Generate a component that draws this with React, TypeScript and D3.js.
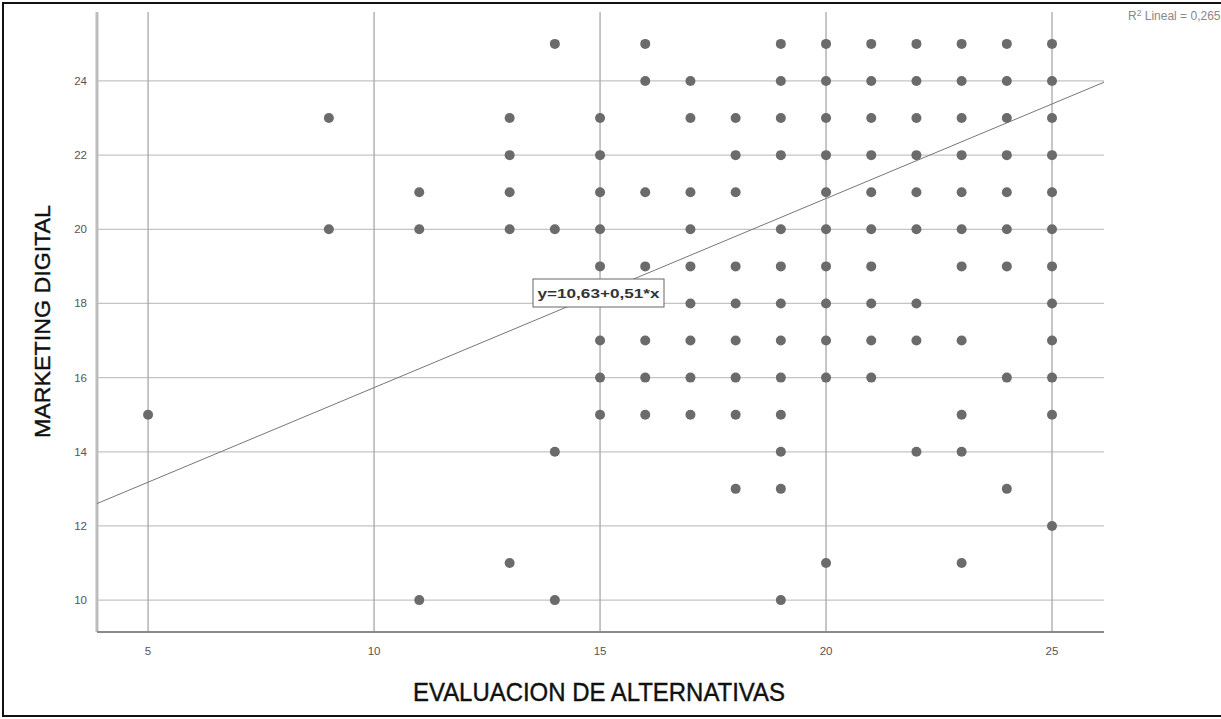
import React from "react";
import * as d3 from "d3";

// Observations: EVALUACION DE ALTERNATIVAS (x) and MARKETING DIGITAL (y), one line per y level
const evaluacion: number[] = [
  14, 16, 19, 20, 21, 22, 23, 24, 25,
  16, 17, 19, 20, 21, 22, 23, 24, 25,
  9, 13, 15, 17, 18, 19, 20, 21, 22, 23, 24, 25,
  13, 15, 18, 19, 20, 21, 22, 23, 24, 25,
  11, 13, 15, 16, 17, 18, 20, 21, 22, 23, 24, 25,
  9, 11, 13, 14, 15, 17, 19, 20, 21, 22, 23, 24, 25,
  15, 16, 17, 18, 19, 20, 21, 23, 24, 25,
  17, 18, 19, 20, 21, 22, 25,
  15, 16, 17, 18, 19, 20, 21, 22, 23, 25,
  15, 16, 17, 18, 19, 20, 21, 24, 25,
  5, 15, 16, 17, 18, 19, 23, 25,
  14, 19, 22, 23,
  18, 19, 24,
  25,
  13, 20, 23,
  11, 14, 19,
];
const marketing: number[] = [
  25, 25, 25, 25, 25, 25, 25, 25, 25,
  24, 24, 24, 24, 24, 24, 24, 24, 24,
  23, 23, 23, 23, 23, 23, 23, 23, 23, 23, 23, 23,
  22, 22, 22, 22, 22, 22, 22, 22, 22, 22,
  21, 21, 21, 21, 21, 21, 21, 21, 21, 21, 21, 21,
  20, 20, 20, 20, 20, 20, 20, 20, 20, 20, 20, 20, 20,
  19, 19, 19, 19, 19, 19, 19, 19, 19, 19,
  18, 18, 18, 18, 18, 18, 18,
  17, 17, 17, 17, 17, 17, 17, 17, 17, 17,
  16, 16, 16, 16, 16, 16, 16, 16, 16,
  15, 15, 15, 15, 15, 15, 15, 15,
  14, 14, 14, 14,
  13, 13, 13,
  12,
  11, 11, 11,
  10, 10, 10,
];

const xTicks = [5, 10, 15, 20, 25];
const yTicks = [10, 12, 14, 16, 18, 20, 22, 24];

// Linear fit reported with the chart
const intercept = 10.63;
const slope = 0.51;
const rSquared = 0.265;

const xTitle = "EVALUACION DE ALTERNATIVAS";
const yTitle = "MARKETING DIGITAL";

const W = 1221;
const H = 719;
const plot = { left: 97, right: 1104, top: 12, bottom: 632 };
const FONT = "'Liberation Sans', Arial, Helvetica, sans-serif";

const comma = (v: number, d: number) => v.toFixed(d).replace(".", ",");

export default function App() {
  const x = d3.scaleLinear().domain([3.87, 26.15]).range([plot.left, plot.right]);
  const y = d3.scaleLinear().domain([9.14, 25.86]).range([plot.bottom, plot.top]);

  const [x0, x1] = x.domain();
  const fit = d3
    .line<number>()
    .x((v) => x(v))
    .y((v) => y(intercept + slope * v));

  const points = evaluacion.map((e, i) => ({ e, m: marketing[i] }));
  const equation = `y=${comma(intercept, 2)}+${comma(slope, 2)}*x`;

  return (
    <svg
      width={W}
      height={H}
      style={{ position: "absolute", left: 0, top: 0, background: "#fff" }}
      fontFamily={FONT}
    >
      <rect x={0} y={0} width={W} height={H} fill="#fff" />
      {/* outer frame */}
      <rect x={3} y={3} width={W + 10} height={713} fill="none" stroke="#111" strokeWidth={2} />

      {/* horizontal grid */}
      {yTicks.map((t) => (
        <line
          key={`hy${t}`}
          x1={plot.left}
          x2={plot.right}
          y1={y(t)}
          y2={y(t)}
          stroke="#c4c4c4"
          strokeWidth={1.3}
        />
      ))}
      {/* vertical grid */}
      {xTicks.map((t) => (
        <line
          key={`vx${t}`}
          x1={x(t)}
          x2={x(t)}
          y1={plot.top}
          y2={plot.bottom}
          stroke="#a8a8a8"
          strokeWidth={1.3}
        />
      ))}

      {/* axes */}
      <line x1={plot.left} x2={plot.left} y1={plot.top} y2={plot.bottom} stroke="#bdbdbd" strokeWidth={3} />
      <line x1={plot.left} x2={plot.right} y1={plot.bottom} y2={plot.bottom} stroke="#8a8a8a" strokeWidth={2} />

      {/* tick labels */}
      {yTicks.map((t) => (
        <text
          key={`ly${t}`}
          x={87}
          y={y(t)}
          dy="0.35em"
          textAnchor="end"
          fontSize={11.5}
          fill="#555"
        >
          {t}
        </text>
      ))}
      {xTicks.map((t) => (
        <text
          key={`lx${t}`}
          x={x(t)}
          y={plot.bottom + 19}
          dy="0.35em"
          textAnchor="middle"
          fontSize={11.5}
          fill="#555"
        >
          {t}
        </text>
      ))}

      {/* regression line */}
      <path d={fit([x0, x1]) ?? ""} fill="none" stroke="#777" strokeWidth={1} />

      {/* observations */}
      {points.map((p, i) => (
        <circle key={i} cx={x(p.e)} cy={y(p.m)} r={5} fill="#6b6b6b" />
      ))}

      {/* equation label */}
      <g>
        <rect x={533} y={279} width={131} height={28} fill="#fff" stroke="#666" strokeWidth={1} />
        <text
          x={598.5}
          y={293}
          dy="0.35em"
          textAnchor="middle"
          fontSize={13}
          fontWeight="bold"
          fill="#333"
          textLength={122}
          lengthAdjust="spacingAndGlyphs"
        >
          {equation}
        </text>
      </g>

      {/* R² annotation */}
      <text x={1128} y={16} dy="0.35em" fontSize={12} fill="#888">
        R<tspan dy="-4" fontSize={8.5}>2</tspan>
        <tspan dy="4"> Lineal = {comma(rSquared, 3)}</tspan>
      </text>

      {/* axis titles */}
      <text
        x={(413 + 785) / 2}
        y={692}
        dy="0.35em"
        textAnchor="middle"
        fontSize={26}
        fill="#111"
        stroke="#111"
        strokeWidth={0.4}
        textLength={372}
        lengthAdjust="spacingAndGlyphs"
      >
        {xTitle}
      </text>
      <text
        transform={`translate(42, ${(205 + 438) / 2}) rotate(-90)`}
        textAnchor="middle"
        dy="0.35em"
        fontSize={22}
        fill="#111"
        stroke="#111"
        strokeWidth={0.4}
        textLength={233}
        lengthAdjust="spacingAndGlyphs"
      >
        {yTitle}
      </text>
    </svg>
  );
}
